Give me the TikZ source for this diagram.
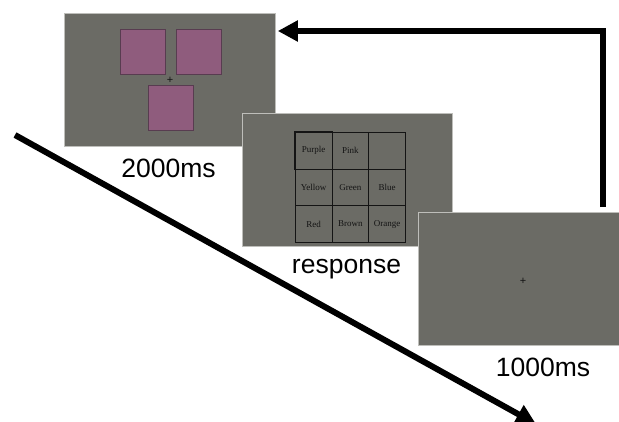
\documentclass[tikz,border=0pt]{standalone}
\usepackage{fontspec}
\setmainfont{Liberation Sans}
\newfontfamily\cellfont{Liberation Serif}
\usetikzlibrary{arrows.meta,calc}

\definecolor{screengray}{RGB}{107,107,101}
\definecolor{screenedge}{RGB}{190,190,186}
\definecolor{tilefill}{RGB}{143,92,125}
\definecolor{tileedge}{RGB}{88,60,80}
\definecolor{inkgray}{RGB}{20,20,20}

\tikzset{
  screen/.style={draw=screenedge, line width=0.8pt, fill=screengray,
    anchor=north west, inner sep=0pt, minimum height=133pt},
  tile/.style={draw=tileedge, line width=0.6pt, fill=tilefill,
    anchor=north west, inner sep=0pt, minimum size=45pt},
  cell/.style={draw=inkgray, line width=0.5pt, anchor=north west,
    inner sep=0pt, minimum size=36.7pt, font=\cellfont\fontsize{9}{10}\selectfont,
    text=inkgray},
  fixation/.style={inner sep=0pt, font=\fontsize{11}{11}\selectfont, text=inkgray},
  timing/.style={anchor=base, inner sep=0pt, font=\fontsize{26.5}{28}\selectfont},
  flow/.style={line width=6pt, black,
    -{Triangle[length=20pt,width=20pt]}},
}

\begin{document}
\begin{tikzpicture}[x=1pt,y=-1pt]
  \useasboundingbox (0,0) rectangle (619,421);

  % first screen: three coloured tiles around a fixation cross
  \node[screen, minimum width=211pt] (s1) at (64,13) {};
  \node[tile] (t1) at (120,29) {};
  \node[tile] (t2) at (176,29) {};
  \node[tile] (t3) at (148,85) {};
  \node[fixation] (f1) at (170,80) {+};

  % second screen: response grid of colour names
  \node[screen, minimum width=210pt] (s2) at (242,113) {};
  \foreach \name [count=\i from 0] in {Purple,Pink,{},Yellow,Green,Blue,Red,Brown,Orange}{
    \pgfmathtruncatemacro{\row}{div(\i,3)}
    \pgfmathtruncatemacro{\col}{mod(\i,3)}
    \node[cell] (c\row\col) at ({295+36.7*\col},{132+36.7*\row}) {\name};
  }
  \draw[inkgray, line width=1.1pt] (c00.north west) rectangle (c00.south east);

  % third screen: fixation only
  \node[screen, minimum width=210pt] (s3) at (418,212) {};
  \node[fixation] (f3) at (523,281) {+};

  % durations
  \node[timing] (l1) at (168.5,177) {2000ms};
  \node[timing] (l2) at (346.5,273) {response};
  \node[timing] (l3) at (543,376) {1000ms};

  % time axis and loop back to the first screen
  \coordinate (tstart) at (15,135);
  \coordinate (tend) at (536,424);
  \draw[flow, line cap=butt] (tstart) -- (tend);

  \coordinate (loopstart) at ([xshift=80pt,yshift=5pt]s3.north);
  \coordinate (loopend) at ([xshift=2pt,yshift=-18pt]s1.north east);
  \draw[flow, line join=miter] (loopstart) |- (loopend);
\end{tikzpicture}
\end{document}
